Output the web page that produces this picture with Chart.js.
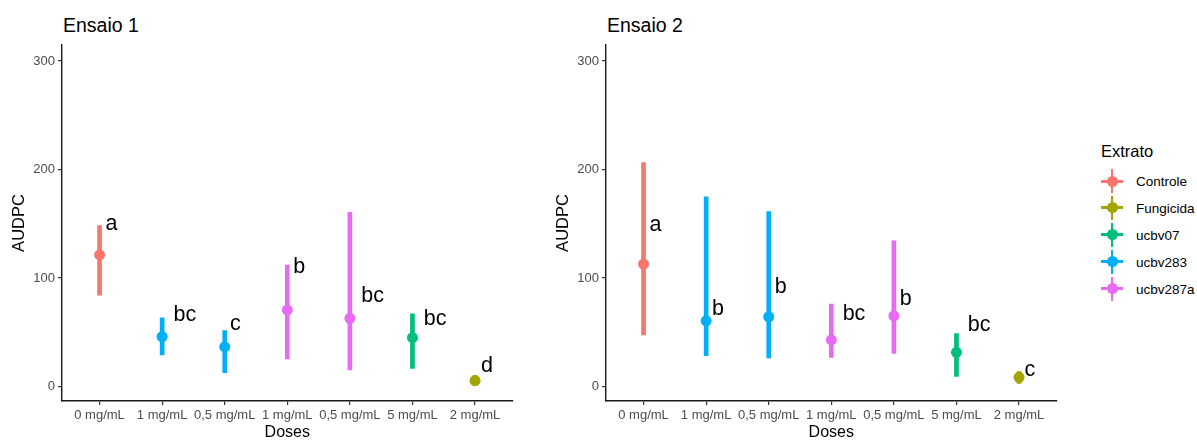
<!DOCTYPE html>
<html>
<head>
<meta charset="utf-8">
<script src="https://cdn.jsdelivr.net/npm/chart.js@4/dist/chart.umd.min.js"></script>
<style>
  body { margin: 0; background: #fff; }
  #wrap { position: relative; width: 1197px; height: 441px; font-family: "Liberation Sans", Arial, sans-serif; }
  .panel { position: absolute; top: 0; width: 540px; height: 441px; }
  .title { position: absolute; top: 16px; font-size: 19.5px; line-height: 1; color: #000; white-space: nowrap; }
  #legend-title { position: absolute; left: 1101px; top: 143px; font-size: 16.5px; line-height: 1; color: #000; }
  .leg-item { position: absolute; left: 1100px; height: 24px; width: 97px; }
  .leg-key { position: absolute; left: 1px; top: 0; width: 22px; height: 24px; }
  .leg-key .v { position: absolute; left: 10px; top: 0; width: 2px; height: 24px; }
  .leg-key .h { position: absolute; left: 0; top: 10.5px; width: 22px; height: 3px; }
  .leg-key .d { position: absolute; left: 5.5px; top: 6.5px; width: 11px; height: 11px; border-radius: 50%; }
  .leg-text { position: absolute; left: 36px; top: 6px; font-size: 13.5px; line-height: 1; color: #000; white-space: nowrap; }
</style>
</head>
<body>
<div id="wrap">
  <div class="title" style="left:63px">Ensaio 1</div>
  <div class="title" style="left:607px">Ensaio 2</div>
  <div class="panel" style="left:0"><canvas id="chart1" width="540" height="441"></canvas></div>
  <div class="panel" style="left:544px"><canvas id="chart2" width="540" height="441"></canvas></div>
  <div id="legend-title">Extrato</div>
  <div id="legend"></div>
</div>
<script>
const doses = ["0 mg/mL", "1 mg/mL", "0,5 mg/mL", "1 mg/mL", "0,5 mg/mL", "5 mg/mL", "2 mg/mL"];
const extratos = ["Controle", "ucbv283", "ucbv283", "ucbv287a", "ucbv287a", "ucbv07", "Fungicida"];
const legendNames = ["Controle", "Fungicida", "ucbv07", "ucbv283", "ucbv287a"];
const legendColours = ["#F8766D", "#A3A500", "#00BF7D", "#00B0F6", "#E76BF3"];
const yTicks = [0, 100, 200, 300];

// Ensaio 1
const mean1 = [121.3, 46, 36.6, 70.6, 63, 45.1, 5.5];
const low1 = [84.2, 29.2, 12.9, 25.5, 15.4, 16.9, 1.5];
const high1 = [148.3, 63.5, 51.6, 112, 160.6, 67, 10.5];
const letters1 = ["a", "bc", "c", "b", "bc", "bc", "d"];
const letterY1 = [144.3, 60.8, 52.2, 104.4, 78.3, 56.8, 13.8];

// Ensaio 2
const mean2 = [112.9, 60.7, 64.4, 43.2, 65.3, 31.6, 8.6];
const low2 = [47.6, 28.5, 26.4, 27, 30.7, 9.5, 3];
const high2 = [206.4, 174.8, 161.3, 76.1, 134.3, 49, 14];
const letters2 = ["a", "b", "b", "bc", "b", "bc", "c"];
const letterY2 = [143.6, 66, 85.9, 61.4, 75.5, 51.5, 9.5];

const FONT = '"Liberation Sans", Arial, sans-serif';

function colourOf(name) {
  return legendColours[legendNames.indexOf(name)];
}

const pointColours = extratos.map(colourOf);

// letras de significância ao lado de cada ponto (hjust ~ -0.5)
const lettersPlugin = {
  id: "letters",
  afterDatasetsDraw(chart, args, opts) {
    const { ctx, scales } = chart;
    ctx.save();
    ctx.font = "21.5px " + FONT;
    ctx.fillStyle = "#000";
    ctx.textAlign = "left";
    ctx.textBaseline = "alphabetic";
    opts.letters.forEach((txt, i) => {
      const w = ctx.measureText(txt).width;
      ctx.fillText(txt, scales.x.getPixelForValue(i) + w * 0.5, scales.y.getPixelForValue(opts.heights[i]));
    });
    ctx.restore();
  }
};

function makePanel(canvasId, mean, low, high, letters, letterY) {
  return new Chart(document.getElementById(canvasId), {
    type: "bar",
    data: {
      datasets: [
        {
          type: "scatter",
          data: mean.map((v, i) => ({ x: i, y: v })),
          pointRadius: 5.5,
          pointHoverRadius: 5.5,
          pointBorderWidth: 0,
          pointBackgroundColor: pointColours,
          order: 0
        },
        {
          type: "bar",
          data: low.map((v, i) => ({ x: i, y: [v, high[i]] })),
          backgroundColor: pointColours,
          borderWidth: 0,
          barThickness: 4,
          order: 1
        }
      ]
    },
    options: {
      responsive: false,
      animation: false,
      layout: { padding: { top: 45, right: 27.4, bottom: 0, left: 0 } },
      plugins: {
        legend: { display: false },
        tooltip: { enabled: false },
        letters: { letters: letters, heights: letterY }
      },
      scales: {
        x: {
          type: "linear",
          min: -0.6,
          max: 6.6,
          offset: false,
          afterBuildTicks: (scale) => {
            scale.ticks = doses.map((d, i) => ({ value: i }));
          },
          afterFit: (scale) => { scale.height = 40; },
          ticks: {
            callback: (v) => doses[v],
            color: "#4D4D4D",
            font: { family: FONT, size: 13 },
            padding: 3,
            maxRotation: 0,
            autoSkip: false
          },
          grid: { drawOnChartArea: false, drawTicks: true, tickLength: 4, tickColor: "#333", lineWidth: 1.2, offset: false },
          border: { display: true, color: "#1a1a1a", width: 1.4 },
          title: { display: true, text: "Doses", color: "#000", font: { family: FONT, size: 16, lineHeight: 1.05 }, padding: { top: 0, bottom: 0 } }
        },
        y: {
          min: -13.2,
          max: 314.7,
          afterBuildTicks: (scale) => {
            scale.ticks = yTicks.map((v) => ({ value: v }));
          },
          afterFit: (scale) => { scale.width = 62; },
          ticks: { color: "#4D4D4D", font: { family: FONT, size: 13 }, padding: 3 },
          grid: { drawOnChartArea: false, drawTicks: true, tickLength: 4, tickColor: "#333", lineWidth: 1.2 },
          border: { display: true, color: "#1a1a1a", width: 1.4 },
          title: { display: true, text: "AUDPC", color: "#000", font: { family: FONT, size: 16.5, lineHeight: 1.2 }, padding: { top: 10, bottom: 0 } }
        }
      }
    },
    plugins: [lettersPlugin]
  });
}

makePanel("chart1", mean1, low1, high1, letters1, letterY1);
makePanel("chart2", mean2, low2, high2, letters2, letterY2);

// legenda
const legendBox = document.getElementById("legend");
legendNames.forEach((name, k) => {
  const item = document.createElement("div");
  item.className = "leg-item";
  item.style.top = (169 + k * 26.9) + "px";
  const c = legendColours[k];
  item.innerHTML =
    '<div class="leg-key">' +
    '<div class="v" style="background:' + c + '"></div>' +
    '<div class="h" style="background:' + c + '"></div>' +
    '<div class="d" style="background:' + c + '"></div>' +
    "</div>" +
    '<div class="leg-text">' + name + "</div>";
  legendBox.appendChild(item);
});
</script>
</body>
</html>
